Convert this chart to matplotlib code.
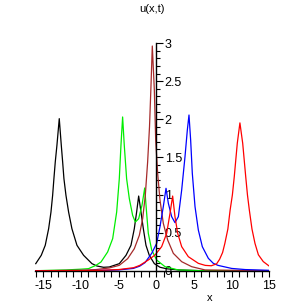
import matplotlib
matplotlib.use('Agg')
import matplotlib.pyplot as plt
from matplotlib.ticker import MultipleLocator

plt.rcParams['font.family'] = ['Liberation Sans', 'DejaVu Sans']

# points, one list pair per snapshot
black_x = [-16.0, -15.27, -14.74, -14.29, -13.98, -13.76, -13.59, -13.41, -13.19, -12.88,
           -12.61, -12.43, -12.26, -11.99, -11.64, -11.2, -10.53, -9.65, -8.54, -7.88, -7.0,
           -6.24, -4.91, -4.02, -3.36, -2.92, -2.61, -2.34, -2.03, -1.72, -1.37, -0.93, -0.26,
           0.5, 1.4, 3, 6, 15]
black_y = [0.093, 0.203, 0.335, 0.554, 0.774, 0.994, 1.214, 1.434, 1.654, 2.006,
           1.654, 1.434, 1.214, 0.994, 0.774, 0.554, 0.335, 0.203, 0.093, 0.062, 0.045,
           0.049, 0.093, 0.203, 0.335, 0.554, 0.774, 0.985, 0.774, 0.554, 0.335, 0.203, 0.093,
           0.045, 0.025, 0.01, 0.0, 0.0]

green_x = [-16.0, -12, -10, -9.0, -8.0, -7.34, -6.46, -5.79, -5.26, -4.91, -4.69, -4.47, -4.25,
           -3.94, -3.58, -3.14, -2.78, -2.34, -1.9, -1.54, -1.28, -1.06, -0.61, 0.05, 1.16,
           2.9, 6, 15]
green_y = [0.0, 0.01, 0.02, 0.027, 0.071, 0.115, 0.247, 0.423, 0.774, 1.214, 1.654, 2.028, 1.654,
           1.214, 0.95, 0.73, 0.642, 0.686, 0.862, 1.091, 0.757, 0.493, 0.273, 0.141, 0.053,
           0.01, 0.0, 0.0]

brown_x = [-16.0, -10, -8, -6.24, -4.91, -3.8, -2.92, -2.25, -1.81, -1.46, -1.15, -0.9, -0.7,
           -0.53, -0.26, -0.08, 0.18, 0.49, 0.93, 1.51, 2.26, 3.37, 4.7, 6.47, 15]
brown_y = [0.0, 0.005, 0.015, 0.036, 0.071, 0.159, 0.29, 0.467, 0.686, 0.994, 1.434, 1.9, 2.45,
           2.964, 2.384, 1.724, 1.285, 0.933, 0.625, 0.405, 0.229, 0.119, 0.053, 0.01, 0.0]

blue_x = [-16.0, -8, -5, -3.05, -2.2, -1.5, -0.61, 0.05, 0.49, 0.93, 1.29, 1.6, 2.04, 2.48,
          2.93, 3.37, 3.81, 4.12, 4.34, 4.56, 4.78, 5.14, 5.58, 6.11, 6.91, 7.57, 8.2, 10,
          11.8, 15]
blue_y = [0.0, 0.003, 0.01, 0.03, 0.06, 0.106, 0.229, 0.361, 0.581, 0.845, 1.087, 0.889, 0.713,
          0.634, 0.713, 1.065, 1.504, 1.856, 2.054, 1.724, 1.285, 0.845, 0.537, 0.317, 0.163,
          0.097, 0.07, 0.03, 0.015, 0.005]

red_x = [-16.0, -8, -5, -3, -2.2, -1.06, -0.17, 0.71, 1.38, 1.82, 2.17, 2.48, 2.84, 3.37, 4.25,
         5.58, 6.5, 7.3, 8.0, 8.4, 8.8, 9.1, 9.5, 9.8, 10.1, 10.35, 10.75, 11.1, 11.47, 11.87,
         12.1, 12.35, 12.7, 13.1, 13.55, 14.2, 15]
red_y = [0.0, 0.003, 0.015, 0.04, 0.07, 0.141, 0.207, 0.317, 0.493, 0.757, 0.985, 0.713, 0.493,
         0.317, 0.185, 0.097, 0.07, 0.065, 0.09, 0.15, 0.24, 0.36, 0.55, 0.8, 1.0, 1.24, 1.68,
         1.95, 1.68, 1.24, 1.0, 0.8, 0.55, 0.36, 0.21, 0.12, 0.06]

x_ticks = [-15, -10, -5, 0, 5, 10, 15]
y_ticks = [0.5, 1, 1.5, 2, 2.5, 3]

fig = plt.figure(figsize=(3.05, 3.05), dpi=100)
ax = fig.add_axes([35 / 305, 34.3 / 305, 234.3 / 305, 227.4 / 305])

ax.plot(black_x, black_y, color='black', lw=0.9)
ax.plot(green_x, green_y, color='#00ee00', lw=0.9)
ax.plot(brown_x, brown_y, color='#a52a2a', lw=0.9)
ax.plot(blue_x, blue_y, color='blue', lw=0.9)
ax.plot(red_x, red_y, color='red', lw=0.9)

ax.set_xlim(-16.1, 15)
ax.set_ylim(0, 3)

ax.spines['top'].set_visible(False)
ax.spines['left'].set_visible(False)
ax.spines['right'].set_position(('data', 0))
ax.spines['bottom'].set_position(('data', 0))
ax.yaxis.tick_right()

ax.set_xticks(x_ticks)
ax.set_xticklabels([str(t) for t in x_ticks])
ax.xaxis.set_minor_locator(MultipleLocator(1))
ax.set_yticks([0] + y_ticks)
ax.set_yticklabels(['0'] + [str(t) for t in y_ticks])
ax.yaxis.set_minor_locator(MultipleLocator(0.1))

ax.tick_params(axis='both', which='major', labelsize=9, width=0.8, colors='black')
ax.tick_params(axis='x', which='major', length=4, pad=3)
ax.tick_params(axis='x', which='minor', length=4, width=0.8)
ax.tick_params(axis='y', which='major', length=5, pad=1)
ax.tick_params(axis='y', which='minor', length=3, width=0.8)
for s in ['right', 'bottom']:
    ax.spines[s].set_linewidth(1.0)

fig.text(152 / 305, 1 - 9 / 305, 'u(x,t)', ha='center', va='center', fontsize=8)
fig.text(210 / 305, 1 - 298 / 305, 'x', ha='center', va='center', fontsize=8)

fig.savefig('out.png', dpi=100)
